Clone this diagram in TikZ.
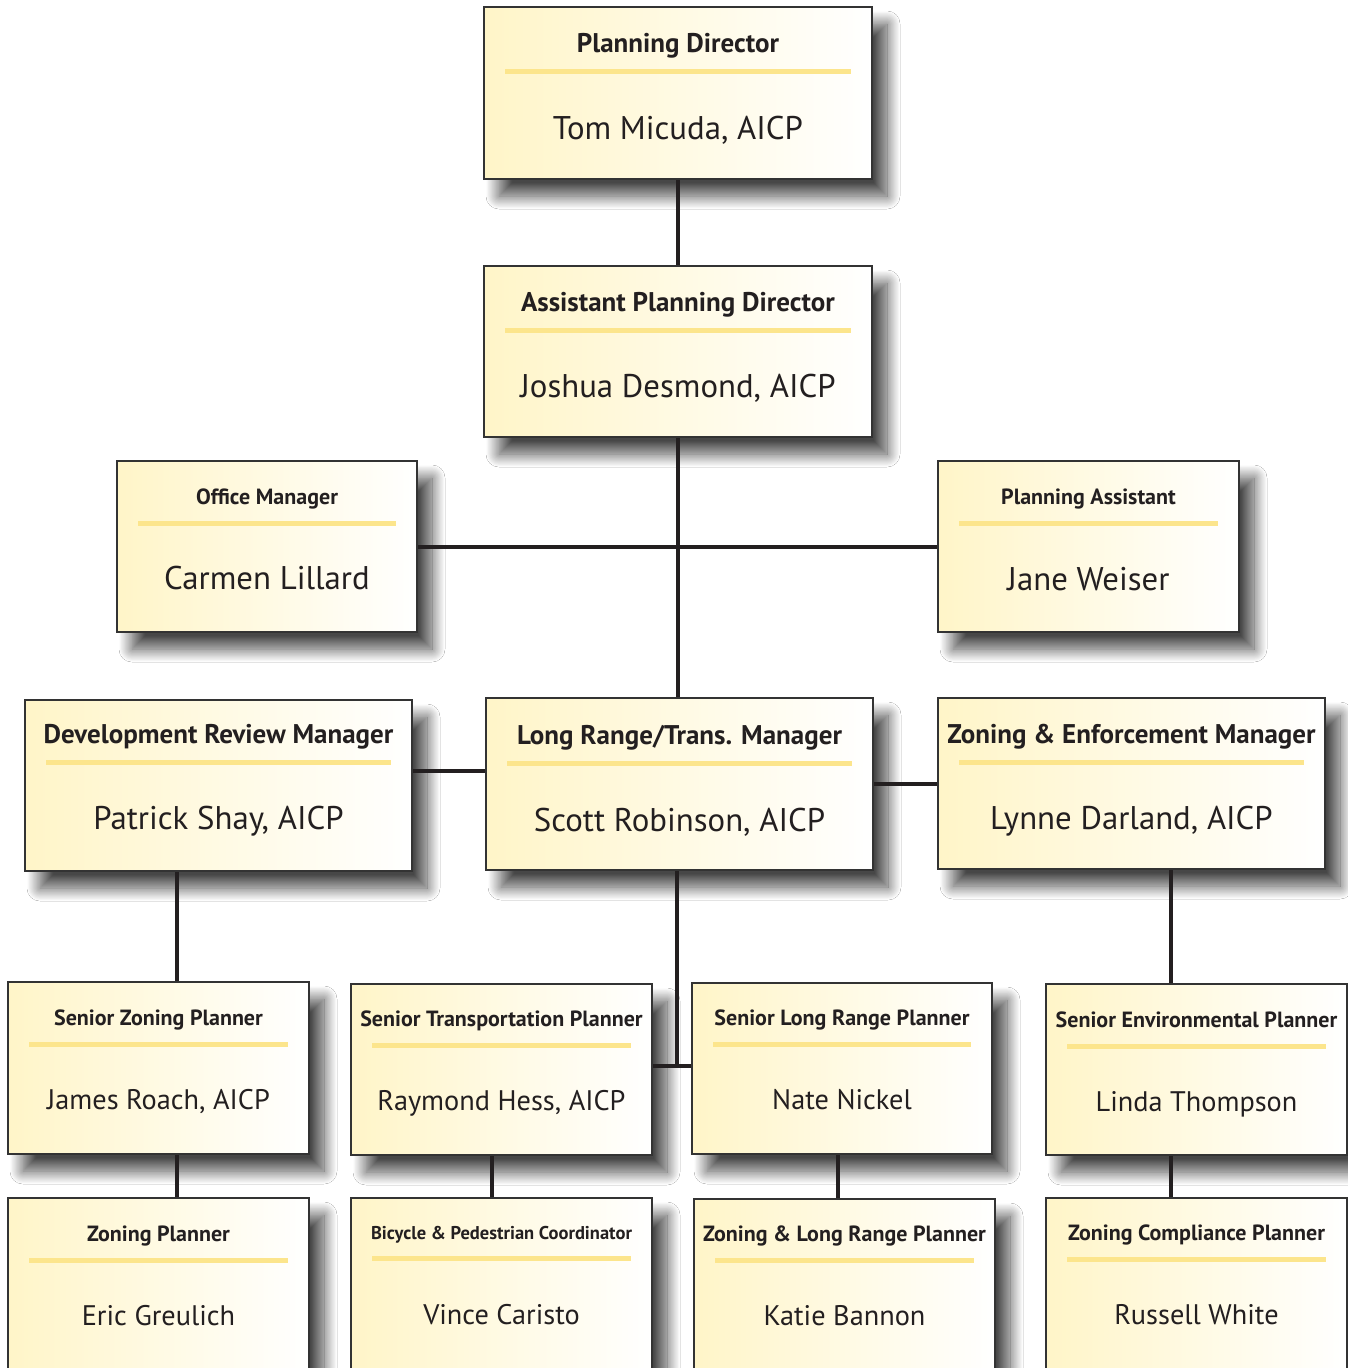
\documentclass[tikz,border=0pt]{standalone}
\usepackage{fontspec}
\setmainfont{PT Sans}
\usetikzlibrary{shadows.blur}
\definecolor{edgecol}{HTML}{333333}
\definecolor{paleyellow}{HTML}{FFF5C8}
\definecolor{rulecol}{HTML}{FCE58C}
\definecolor{conncol}{HTML}{231F20}
\definecolor{txtcol}{HTML}{231F20}
\newcommand\tA{\bfseries\fontsize{27}{30}\selectfont}
\newcommand\tB{\bfseries\fontsize{22}{25}\selectfont}
\newcommand\tC{\bfseries\fontsize{18.5}{21}\selectfont}
\newcommand\nA{\fontsize{32.8}{36}\selectfont}
\newcommand\nB{\fontsize{28.3}{31}\selectfont}
\tikzset{
  orgframe/.style={draw=edgecol, line width=2pt, left color=paleyellow, middle color=paleyellow!35!white, right color=white,
    blur shadow={shadow xshift=15pt, shadow yshift=-17pt, shadow blur radius=13pt, shadow opacity=72, shadow blur steps=30}},
  rulestyle/.style={draw=rulecol, line width=5pt},
  conn/.style={draw=conncol, line width=4pt},
  lbl/.style={text=txtcol, inner sep=0pt, anchor=mid}
}
% #1 id, #2 left, #3 top, #4 right, #5 bottom, #6 title, #7 name, #8 title dy, #9 name dy
\newcommand\orgbox[9]{%
  \node[orgframe, minimum width={#4-#2}, minimum height={#5-#3}, inner sep=0pt] (#1) at ({(#2+#4)/2},{(#3+#5)/2}) {};
  \node[lbl] (#1-t) at ({(#2+#4)/2},{#3+#8+6}) {#6};
  \draw[rulestyle] ({#2+21},{#3+#8+27}) -- ({#4-21},{#3+#8+27});
  \node[lbl] (#1-n) at ({(#2+#4)/2},{#3+#9+9}) {#7};
}
\begin{document}
\begin{tikzpicture}[x=1pt,y=-1pt]
\useasboundingbox[fill=white] (0,0) rectangle (1348,1368);
\orgbox{pd}{484}{7}{872}{179}{\tA Planning Director}{\nA Tom Micuda, AICP}{37}{121}
\orgbox{apd}{484}{266}{872}{437}{\tA Assistant Planning Director}{\nA Joshua Desmond, AICP}{37}{120}
\orgbox{om}{117}{461}{417}{632}{\tB Office Manager}{\nA Carmen Lillard}{35}{117}
\orgbox{pa}{938}{461}{1239}{632}{\tB Planning Assistant}{\nA Jane Weiser}{35}{118}
\orgbox{dr}{25}{700}{412}{871}{\tA Development Review Manager}{\nA Patrick Shay, AICP}{35}{118}
\orgbox{lr}{486}{698}{873}{870}{\tA Long Range/Trans. Manager}{\nA Scott Robinson, AICP}{38}{122}
\orgbox{ze}{938}{698}{1325}{869}{\tA Zoning \& Enforcement Manager}{\nA Lynne Darland, AICP}{37}{120}
\orgbox{szp}{8}{982}{309}{1154}{\tB Senior Zoning Planner}{\nB James Roach, AICP}{35}{116}
\orgbox{stp}{351}{984}{652}{1155}{\tB Senior Transportation Planner}{\nB Raymond Hess, AICP}{34}{115}
\orgbox{slrp}{692}{983}{992}{1154}{\tB Senior Long Range Planner}{\nB Nate Nickel}{34}{115}
\orgbox{sep}{1046}{984}{1347}{1155}{\tB Senior Environmental Planner}{\nB Linda Thompson}{35}{116}
\orgbox{zp}{8}{1198}{309}{1420}{\tB Zoning Planner}{\nB Eric Greulich}{35}{116}
\orgbox{bpc}{351}{1198}{652}{1420}{\tC Bicycle \& Pedestrian Coordinator}{\nB Vince Caristo}{33}{115}
\orgbox{zlrp}{694}{1199}{995}{1420}{\tB Zoning \& Long Range Planner}{\nB Katie Bannon}{34}{115}
\orgbox{zcp}{1046}{1198}{1347}{1420}{\tB Zoning Compliance Planner}{\nB Russell White}{34}{115}
% connector guide coordinates
\coordinate (drlr) at (450,771);
\coordinate (xdr) at (177,0);
\coordinate (xlr) at (677,0);
\coordinate (xze) at (1171,0);
\coordinate (xstp) at (492,0);
\coordinate (xslrp) at (838,0);
\coordinate (jn) at (677,1066);
% connectors
\draw[conn] (pd.south) -- (apd.north);
\draw[conn] (apd.south) -- (apd.south |- lr.north);
\draw[conn] (om.east) -- (pa.west);
\draw[conn] (dr.east |- drlr) -- (lr.west |- drlr);
\draw[conn] (lr.east) -- (ze.west |- lr.east);
\draw[conn] (dr.south -| xdr) -- (szp.north -| xdr);
\draw[conn] (szp.south -| xdr) -- (zp.north -| xdr);
\draw[conn] (lr.south -| xlr) -- (jn);
\draw[conn] (stp.east |- jn) -- (slrp.west |- jn);
\draw[conn] (ze.south -| xze) -- (sep.north -| xze);
\draw[conn] (sep.south -| xze) -- (zcp.north -| xze);
\draw[conn] (stp.south -| xstp) -- (bpc.north -| xstp);
\draw[conn] (slrp.south -| xslrp) -- (zlrp.north -| xslrp);
\end{tikzpicture}
\end{document}
